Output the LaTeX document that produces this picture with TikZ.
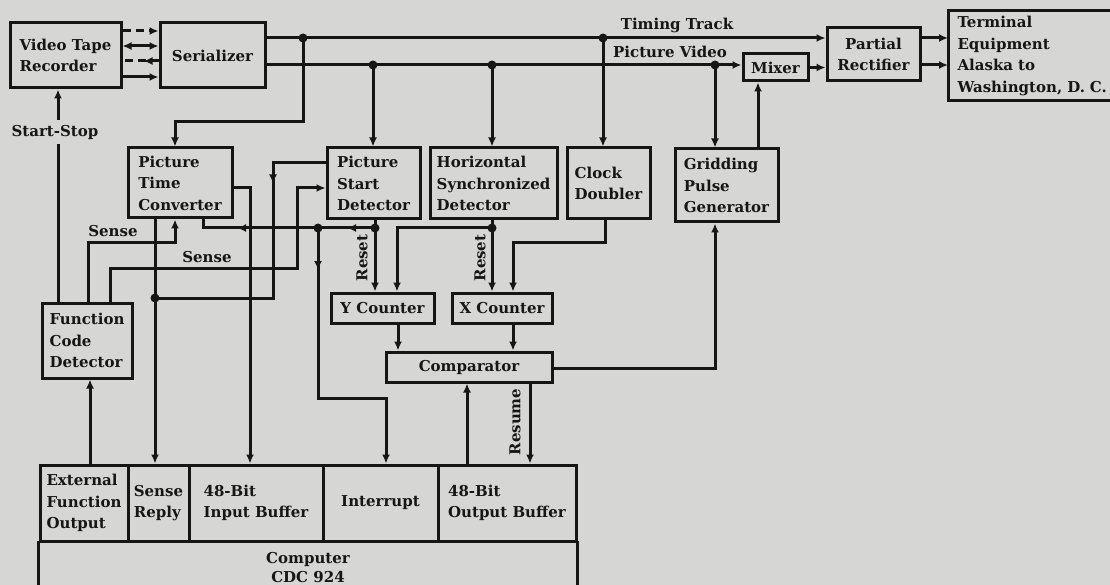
\documentclass[tikz,border=0pt]{standalone}
\usepackage{fontspec}
\setmainfont{DejaVu Serif}
\usetikzlibrary{arrows.meta,decorations.markings}
\definecolor{bg}{RGB}{214,214,212}
\definecolor{ink}{RGB}{22,22,22}
\tikzset{
 blk/.style={draw=ink, line width=3pt, inner xsep=4pt, inner ysep=2pt,
   font=\bfseries\fontsize{15}{21.5}\selectfont, text=ink},
 wire/.style={draw=ink, line width=3pt},
 arr/.style={wire, -{Latex[length=9pt,width=8pt]}},
 lbl/.style={font=\bfseries\fontsize{15}{17}\selectfont, text=ink, inner sep=1pt},
 jdot/.style={circle, fill=ink, inner sep=0pt, minimum size=9pt},
 midarr/.style={postaction={decorate}, decoration={markings,
   mark=at position #1 with {\arrow{Latex[length=9pt,width=8pt]}}}},
 midarrtwo/.style 2 args={postaction={decorate}, decoration={markings,
   mark=at position #1 with {\arrow{Latex[length=9pt,width=8pt]}},
   mark=at position #2 with {\arrow{Latex[length=9pt,width=8pt]}}}},
}
\newcommand\mybox[7][left]{%
 \pgfmathsetmacro\bw{#5-#3}\pgfmathsetmacro\bh{#6-#4}%
 \pgfmathsetmacro\cx{(#3+#5)/2}\pgfmathsetmacro\cy{(#4+#6)/2}%
 \node[blk, align=#1, minimum width=\bw pt, minimum height=\bh pt] (#2) at (\cx,\cy) {#7};}
\begin{document}
\begin{tikzpicture}[x=1pt,y=-1pt]
\fill[bg] (0,0) rectangle (1110,585);
\useasboundingbox (0,0) rectangle (1110,585);

% boxes
\mybox{vtr}{10}{23}{121}{88}{Video Tape\\Recorder}
\mybox[center]{ser}{160}{23}{265}{88}{Serializer}
\mybox[center]{mix}{743}{54}{808}{81}{Mixer}
\mybox[center]{pr}{827}{28}{920}{81}{Partial\\Rectifier}
\node[blk, draw=none, anchor=north west, align=left, minimum height=87pt,
  inner xsep=8pt, text width=160pt] (te) at (948,11)
  {Terminal\\Equipment\\Alaska to\\Washington, D. C.};
\draw[wire] (te.north east) -- (te.north west) -- (te.south west) -- (te.south east);
\mybox{ptc}{128}{148}{232}{218}{Picture\\Time\\Converter}
\mybox{psd}{327}{148}{420}{219}{Picture\\Start\\Detector}
\mybox{hsd}{430}{148}{557}{219}{Horizontal\\Synchronized\\Detector}
\mybox{cd}{567}{148}{650}{219}{Clock\\Doubler}
\mybox{gpg}{675}{149}{778}{222}{Gridding\\Pulse\\Generator}
\mybox{fcd}{42}{303}{132}{378}{Function\\Code\\Detector}
\mybox[center]{yc}{331}{293}{434}{323}{Y Counter}
\mybox[center]{xc}{452}{293}{552}{323}{X Counter}
\mybox[center]{cmp}{386}{352}{552}{382}{Comparator}
\mybox{efo}{40}{465}{128}{541}{External\\Function\\Output}
\mybox{sr}{128}{465}{189}{541}{Sense\\Reply}
\mybox{ib}{189}{465}{323}{541}{48-Bit\\Input Buffer}
\mybox[center]{intr}{323}{465}{438}{541}{Interrupt}
\mybox{ob}{438}{465}{576}{541}{48-Bit\\Output Buffer}
\node[blk, draw=none, anchor=north, align=center, minimum width=536pt,
  minimum height=50pt, inner ysep=3pt, font=\bfseries\fontsize{15}{19}\selectfont]
  (comp) at (308,541) {Computer\\CDC 924};
\draw[wire] (comp.north west) -- (comp.south west);
\draw[wire] (comp.north east) -- (comp.south east);

% junctions
\coordinate (jt1) at (303,38);
\coordinate (jt2) at (603,38);
\coordinate (jv1) at (373,65);
\coordinate (jv2) at (492,65);
\coordinate (jv3) at (715,65);
\coordinate (jsr) at (155,298);
\coordinate (jr1) at (375,228);
\coordinate (ji) at (318,228);
\coordinate (jh) at (492,228);

% VTR - Serializer
\draw[arr, dash pattern=on 8pt off 5pt] (vtr.east |- 0,31) -- (ser.west |- 0,31);
\draw[wire, {Latex[length=9pt,width=8pt]}-{Latex[length=9pt,width=8pt]}] (vtr.east |- 0,46) -- (ser.west |- 0,46);
\draw[wire, dash pattern=on 8pt off 5pt, midarr=15pt] (ser.west |- 0,61) -- (vtr.east |- 0,61);
\draw[arr] (vtr.east |- 0,77) -- (ser.west |- 0,77);

% main buses
\draw[arr] (ser.east |- 0,38) -- (pr.west |- 0,38);
\node[lbl] (tt) at (677,25) {Timing Track};
\draw[arr] (ser.east |- 0,65) -- (mix.west |- 0,65);
\node[lbl] (pv) at (670,52) {Picture Video};

\draw[arr] (jt1) -- (303,122) -- (175,122) -- (ptc.north -| 175,0);
\draw[arr] (jt2) -- (cd.north -| jt2);
\draw[arr] (jv1) -- (psd.north -| jv1);
\draw[arr] (jv2) -- (hsd.north -| jv2);
\draw[arr] (jv3) -- (gpg.north -| jv3);
\draw[arr] (gpg.north -| 758,0) -- (mix.south -| 758,0);
\draw[arr] (mix.east) -- (mix.east -| pr.west);
\draw[arr] (pr.east |- 0,38) -- (te.west |- 0,38);
\draw[arr] (pr.east |- 0,65) -- (te.west |- 0,65);

% start-stop
\draw[arr] (fcd.north -| 58,0) -- (vtr.south -| 58,0);
\node[lbl, fill=bg, inner xsep=2pt, inner ysep=5pt] (ss) at (55,132) {Start-Stop};

% sense lines
\draw[arr] (fcd.north -| 88,0) -- (88,243) -- (175,243) -- (ptc.south -| 175,0);
\node[lbl] (s1) at (113,231) {Sense};
\draw[arr] (fcd.north -| 110,0) -- (110,268) -- (297,268) -- (297,188) -- (psd.west |- 0,188);
\node[lbl] (s2) at (207,257) {Sense};

% picture time converter outputs
\draw[arr] (ptc.east |- 0,188) -- (250,188) -- (ib.north -| 250,0);
\draw[arr] (ptc.south -| 155,0) -- (sr.north -| 155,0);

% picture start detector
\draw[wire, midarr=73pt] (psd.west |- 0,163) -- (273,163) -- (273,298) -- (jsr);
\draw[arr] (psd.south -| jr1) -- (yc.north -| jr1);
\draw[wire, midarrtwo={28pt}{138pt}] (jr1) -- (203,228) -- (ptc.south -| 203,0);
\draw[arr, midarr=42pt] (ji) -- (318,398) -- (386,398) -- (intr.north -| 386,0);
\node[lbl, rotate=90] (r1) at (362,258) {Reset};

% horizontal sync detector
\draw[arr] (hsd.south -| jh) -- (xc.north -| jh);
\draw[arr] (jh) -- (397,228) -- (yc.north -| 397,0);
\node[lbl, rotate=90] (r2) at (480,258) {Reset};

% clock doubler
\draw[arr] (cd.south -| 605,0) -- (605,243) -- (513,243) -- (xc.north -| 513,0);

% counters to comparator
\draw[arr] (yc.south -| 398,0) -- (cmp.north -| 398,0);
\draw[arr] (xc.south -| 513,0) -- (cmp.north -| 513,0);
\draw[arr] (cmp.east |- 0,368) -- (715,368) -- (gpg.south -| 715,0);

% computer links
\draw[arr] (ob.north -| 467,0) -- (cmp.south -| 467,0);
\draw[arr] (cmp.south -| 530,0) -- (ob.north -| 530,0);
\node[lbl, rotate=90] (rs) at (515,422) {Resume};
\draw[arr] (efo.north -| 90,0) -- (fcd.south -| 90,0);

% dots
\foreach \p in {jt1,jt2,jv1,jv2,jv3,jsr,jr1,ji,jh}
  \node[jdot] (d\p) at (\p) {};
\end{tikzpicture}
\end{document}
